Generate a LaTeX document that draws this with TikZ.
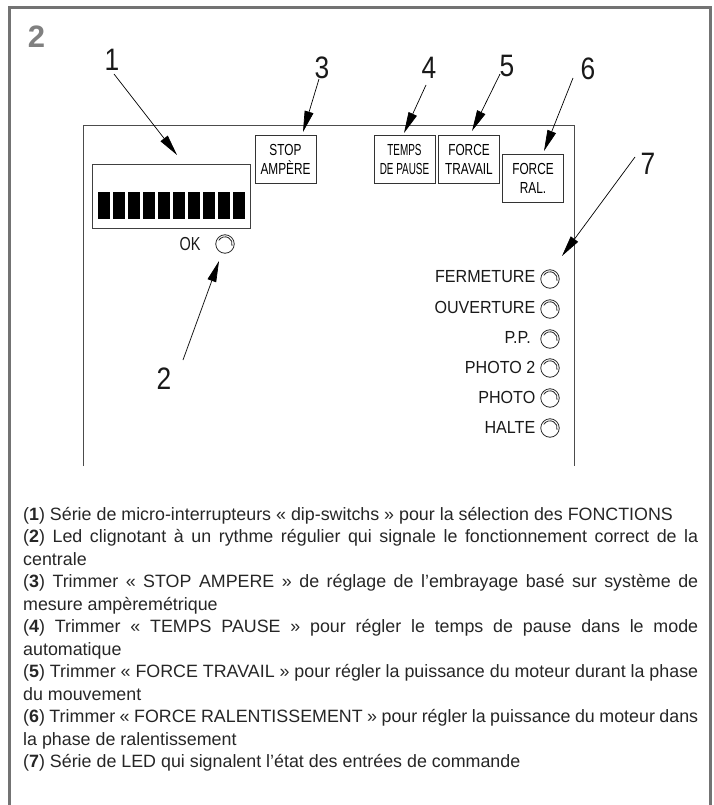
\documentclass[tikz,border=0pt]{standalone}
\usepackage{graphicx}
\usepackage{fontspec}
\setmainfont{Liberation Sans}
\usetikzlibrary{arrows.meta}
\newcommand{\nar}[2][.85]{\scalebox{#1}[1]{#2}}
\tikzset{
  frameline/.style={draw=black!55,line width=3pt},
  panelline/.style={draw=black!70,line width=1pt},
  trimbox/.style={draw=black!80,line width=.9pt,minimum width=61pt,minimum height=48pt,inner sep=0pt,align=center,font=\fontsize{16}{19}\selectfont},
  numlabel/.style={inner sep=0pt,text=black!90,font=\fontsize{31}{31}\selectfont},
  ledlabel/.style={inner sep=0pt,anchor=east,text=black!90,font=\fontsize{17.5}{17.5}\selectfont},
  led/.style={circle,draw=black!85,line width=.8pt,minimum size=18.5pt,inner sep=0pt,
    path picture={\draw[black!85,line width=.8pt] (path picture bounding box.center) ++(150:7.2pt) arc (150:-15:7.2pt);}},
  bar/.style={fill=black,draw=none,minimum width=11.7pt,minimum height=27pt,inner sep=0pt},
  arr/.style={-{Triangle[length=21pt,width=9pt]},black,line width=.7pt},
}
\begin{document}
\begin{tikzpicture}[x=1pt,y=-1pt]
\useasboundingbox (0,0) rectangle (713,805);
% outer frame
\draw[frameline] (9.5,805) -- (9.5,7.5) -- (710,7.5) -- (710,805);
\node[inner sep=0pt,text=black!50,font=\fontsize{31}{31}\selectfont\bfseries] (title) at (36.5,37) {2};
% panel
\draw[panelline] (83,466) -- (83,126) -- (574,126) -- (574,466);
% dip switch
\node[draw=black!75,line width=.9pt,minimum width=158pt,minimum height=64pt,inner sep=0pt] (dip) at (171,196) {};
\foreach \i in {0,...,9} \node[bar] (b\i) at (104.2+15*\i,205.5) {};
\node[numlabel,font=\fontsize{18.8}{18.8}\selectfont] (oktxt) at (190,244) {\nar[.77]{OK}};
\node[led] (ok) at (225,244) {};
% trimmers
\node[trimbox] (stop) at (285.5,159) {\nar[.74]{STOP}\\\nar[.74]{AMPÈRE}};
\node[trimbox] (temps) at (404.5,159) {\nar[.62]{TEMPS}\\\nar[.62]{DE PAUSE}};
\node[trimbox] (ftrav) at (469,159) {\nar[.74]{FORCE}\\\nar[.74]{TRAVAIL}};
\node[trimbox] (fral) at (533,178.5) {\nar[.74]{FORCE}\\\nar[.74]{RAL.}};
% numbers
\node[numlabel] (n1) at (112,60) {\nar{1}};
\node[numlabel] (n2) at (164,379) {\nar{2}};
\node[numlabel] (n3) at (322,68) {\nar{3}};
\node[numlabel] (n4) at (429,68) {\nar{4}};
\node[numlabel] (n5) at (507,66) {\nar{5}};
\node[numlabel] (n6) at (588,69) {\nar{6}};
\node[numlabel] (n7) at (648,164) {\nar{7}};
% LEDs
\node[led] (l1) at (550,279) {};
\node[led] (l2) at (550,309) {};
\node[led] (l3) at (550,339) {};
\node[led] (l4) at (550,368) {};
\node[led] (l5) at (550,398) {};
\node[led] (l6) at (550,428) {};
\node[ledlabel] (t1) at (535.5,277) {\nar[.92]{FERMETURE}};
\node[ledlabel] (t2) at (535.5,307) {\nar[.92]{OUVERTURE}};
\node[ledlabel] (t3) at (531,337) {\nar[.92]{P.P.}};
\node[ledlabel] (t4) at (535.5,367) {\nar[.92]{PHOTO 2}};
\node[ledlabel] (t5) at (535.5,397) {\nar[.92]{PHOTO}};
\node[ledlabel] (t6) at (535.5,427) {\nar[.92]{HALTE}};
% arrows
\draw[arr] ([shift={(2,14)}]n1.center) -- ([shift={(6,-41)}]dip.center);
\draw[arr] ([shift={(19,-19)}]n2.center) -- ([shift={(-6,17)}]ok.center);
\draw[arr] ([shift={(-3,11)}]n3.center) -- ([shift={(17.5,-27)}]stop.center);
\draw[arr] ([shift={(-3,17)}]n4.center) -- ([shift={(-0.5,-26)}]temps.center);
\draw[arr] ([shift={(-7,8)}]n5.center) -- ([shift={(3,-28)}]ftrav.center);
\draw[arr] ([shift={(-15,9)}]n6.center) -- ([shift={(11,-27.5)}]fral.center);
\draw[arr] ([shift={(-13,-7)}]n7.center) -- ([shift={(12,-23)}]l1.center);
% legend
\node[anchor=north west,inner sep=0pt,text width=675pt,text=black!85,font=\fontsize{17.85}{22.5}\selectfont,align=justify] (legend) at (23,507) {%
(\textbf{1}) Série de micro-interrupteurs « dip-switchs » pour la sélection des FONCTIONS\par
(\textbf{2}) Led clignotant à un rythme régulier qui signale le fonctionnement correct de la\linebreak centrale\par
(\textbf{3}) Trimmer « STOP AMPERE » de réglage de l’embrayage basé sur système de\linebreak mesure ampèremétrique\par
(\textbf{4}) Trimmer « TEMPS PAUSE » pour régler le temps de pause dans le mode\linebreak automatique\par
(\textbf{5}) Trimmer « FORCE TRAVAIL » pour régler la puissance du moteur durant la phase\linebreak du mouvement\par
(\textbf{6}) Trimmer « FORCE RALENTISSEMENT » pour régler la puissance du moteur dans\linebreak la phase de ralentissement\par
(\textbf{7}) Série de LED qui signalent l’état des entrées de commande\par};
\end{tikzpicture}
\end{document}
